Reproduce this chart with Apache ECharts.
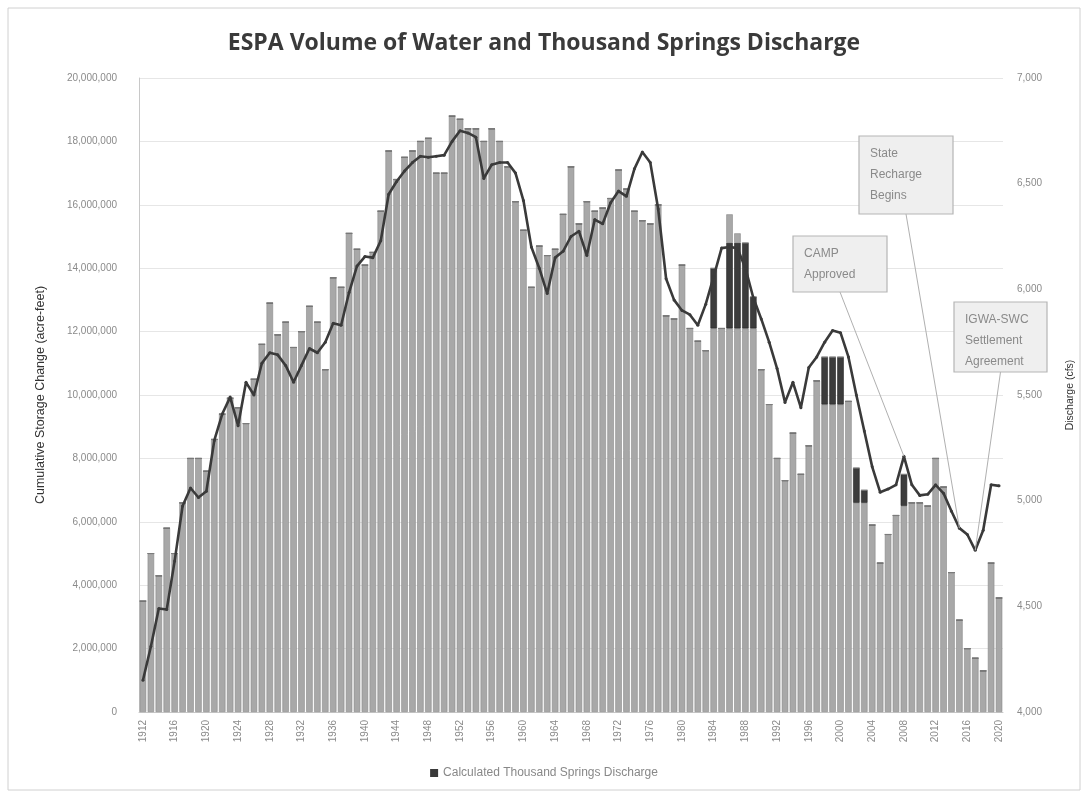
<!DOCTYPE html>
<html>
<head>
<meta charset="utf-8">
<script src="https://cdn.jsdelivr.net/npm/echarts@6/dist/echarts.min.js"></script>
<style>
html,body{margin:0;padding:0;background:#fff;}
#chart{width:1088px;height:798px;}
</style>
</head>
<body>
<div id="chart"></div>
<script>
// ---- DATA ----
const years = [];
for (let y = 1912; y <= 2020; y++) years.push(String(y));

// Cumulative storage change, millions of acre-feet (1912..2020)
const storageM = [
  3.5, 5.0, 4.3, 5.8, 5.0, 6.6, 8.0, 8.0, 7.6, 8.6,
  9.4, 9.9, 9.6, 9.1, 10.5, 11.6, 12.9, 11.9, 12.3, 11.5,
  12.0, 12.8, 12.3, 10.8, 13.7, 13.4, 15.1, 14.6, 14.1, 14.5,
  15.8, 17.7, 16.8, 17.5, 17.7, 18.0, 18.1, 17.0, 17.0, 18.8,
  18.7, 18.4, 18.4, 18.0, 18.4, 18.0, 17.2, 16.1, 15.2, 13.4,
  14.7, 14.4, 14.6, 15.7, 17.2, 15.4, 16.1, 15.8, 15.9, 16.2,
  17.1, 16.5, 15.8, 15.5, 15.4, 16.0, 12.5, 12.4, 14.1, 12.1,
  11.7, 11.4, 14.0, 12.1, 15.7, 15.1, 14.8, 13.1, 10.8, 9.7,
  8.0, 7.3, 8.8, 7.5, 8.4, 10.45, 11.2, 11.2, 11.2, 9.8,
  7.7, 7.0, 5.9, 4.7, 5.6, 6.2, 7.5, 6.6, 6.6, 6.5,
  8.0, 7.1, 4.4, 2.9, 2.0, 1.7, 1.3, 4.7, 3.6
];

// Dark-shaded bands drawn over some bars (millions of acre-feet)
const shadeYears = ['1984', '1986', '1987', '1988', '1989', '1998', '1999', '2000', '2002', '2003', '2008'];
const shadeFrom  = [12.1, 12.1, 12.1, 12.1, 12.1, 9.7, 9.7, 9.7, 6.6, 6.6, 6.5];
const shadeTo    = [14.0, 14.8, 14.8, 14.8, 13.1, 11.2, 11.2, 11.2, 7.7, 7.0, 7.5];

// Calculated Thousand Springs discharge, cfs (1912..2020)
const discharge = [
  4150, 4310, 4490, 4485, 4715, 4975, 5060, 5015, 5045, 5285,
  5410, 5490, 5355, 5560, 5500, 5650, 5700, 5690, 5640, 5560,
  5640, 5720, 5700, 5750, 5840, 5830, 5985, 6110, 6155, 6150,
  6230, 6450, 6510, 6560, 6600, 6630, 6625, 6630, 6635, 6700,
  6750, 6740, 6720, 6525, 6590, 6600, 6600, 6550, 6420, 6200,
  6100, 5980, 6150, 6180, 6250, 6275, 6160, 6330, 6310, 6410,
  6465, 6440, 6570, 6650, 6600, 6380, 6050, 5950, 5900, 5880,
  5830, 5930, 6060, 6195, 6200, 6195, 6100, 5960, 5860, 5750,
  5625, 5465, 5560, 5440, 5630, 5680, 5750, 5805, 5795, 5680,
  5500, 5330, 5160, 5040, 5055, 5075, 5210, 5075, 5025, 5030,
  5075, 5035, 4950, 4870, 4840, 4765, 4860, 5075, 5070
];

const notes = [
  { text: 'State\nRecharge\nBegins', year: '2015' },
  { text: 'CAMP\nApproved', year: '2008' },
  { text: 'IGWA-SWC\nSettlement\nAgreement', year: '2017' }
];

// ---- derived stacks ----
const stBase = [], stDark = [], stTop = [];
years.forEach((y, i) => {
  const total = storageM[i] * 1e6;
  const k = shadeYears.indexOf(y);
  if (k < 0) { stBase.push(total); stDark.push(0); stTop.push(0); }
  else {
    const f = shadeFrom[k] * 1e6, t = shadeTo[k] * 1e6;
    stBase.push(Math.min(total, f));
    stDark.push(Math.max(0, Math.min(total, t) - f));
    stTop.push(Math.max(0, total - t));
  }
});

const fmt = v => v.toLocaleString('en-US');
const chart = echarts.init(document.getElementById('chart'));
const barStyle = { color: '#a8a8a8', borderColor: '#8a8a8a', borderWidth: 0.6 };

chart.setOption({
  animation: false,
  backgroundColor: '#fff',
  title: {
    text: 'ESPA Volume of Water and Thousand Springs Discharge',
    left: 'center', top: 27,
    textStyle: { fontFamily: 'Open Sans', fontSize: 23, fontWeight: 'bold', color: '#3a3a3a' }
  },
  legend: {
    bottom: 14, left: 'center',
    data: [{ name: 'Calculated Thousand Springs Discharge', icon: 'rect' }],
    itemWidth: 8, itemHeight: 8, itemGap: 4,
    textStyle: { fontFamily: 'Liberation Sans', fontSize: 12, color: '#888' }
  },
  grid: { left: 139, right: 85, top: 78, bottom: 86 },
  xAxis: {
    type: 'category', data: years,
    axisTick: { show: false },
    axisLine: { lineStyle: { color: '#c8c8c8' } },
    axisLabel: { interval: 3, rotate: 90, fontFamily: 'Liberation Sans', fontSize: 10, color: '#8a8a8a', margin: 8 }
  },
  yAxis: [
    {
      type: 'value', min: 0, max: 20000000, interval: 2000000,
      name: 'Cumulative Storage Change (acre-feet)', nameLocation: 'middle', nameGap: 92,
      nameTextStyle: { fontFamily: 'Liberation Sans', fontSize: 12.5, color: '#333' },
      axisLine: { show: true, lineStyle: { color: '#c8c8c8' } },
      axisLabel: { formatter: v => fmt(v), fontFamily: 'Liberation Sans', fontSize: 10, color: '#8a8a8a', margin: 22 },
      splitLine: { lineStyle: { color: '#e6e6e6' } }
    },
    {
      type: 'value', min: 4000, max: 7000, interval: 500,
      name: 'Discharge (cfs)', nameLocation: 'middle', nameGap: 62,
      nameTextStyle: { fontFamily: 'Liberation Sans', fontSize: 10.5, color: '#333' },
      axisLine: { show: false },
      axisLabel: { formatter: v => fmt(v), fontFamily: 'Liberation Sans', fontSize: 10, color: '#8a8a8a', margin: 14 },
      splitLine: { show: false }
    }
  ],
  series: [
    { name: 'Storage', type: 'bar', stack: 's', data: stBase, itemStyle: barStyle, barCategoryGap: '18%' },
    { name: 'Shade', type: 'bar', stack: 's', data: stDark,
      itemStyle: { color: '#3c3c3c', borderColor: '#222', borderWidth: 0.6 } },
    { name: 'StorageTop', type: 'bar', stack: 's', data: stTop, itemStyle: barStyle },
    {
      name: 'Calculated Thousand Springs Discharge', type: 'line', yAxisIndex: 1,
      data: discharge, symbol: 'circle', symbolSize: 3, showSymbol: true,
      lineStyle: { color: '#3a3a3a', width: 2.6 },
      itemStyle: { color: '#3a3a3a' }, z: 5
    }
  ]
});

// ---- annotations ----
const boxes = [
  { x: 859, y: 136, w: 94, h: 78 },
  { x: 793, y: 236, w: 94, h: 56 },
  { x: 954, y: 302, w: 93, h: 70 }
];
const g = [];
notes.forEach((n, k) => {
  const b = boxes[k];
  const idx = years.indexOf(n.year);
  const p = chart.convertToPixel({ xAxisIndex: 0, yAxisIndex: 1 }, [n.year, discharge[idx]]);
  g.push({ type: 'line', z: 10, shape: { x1: b.x + b.w / 2, y1: b.y + b.h, x2: p[0], y2: p[1] },
           style: { stroke: '#b0b0b0', lineWidth: 1 } });
  g.push({ type: 'rect', z: 11, shape: { x: b.x, y: b.y, width: b.w, height: b.h },
           style: { fill: '#efefef', stroke: '#b5b5b5', lineWidth: 1.2 } });
  g.push({ type: 'text', z: 12, left: b.x + 11, top: b.y + 7,
           style: { text: n.text, font: '12px "Liberation Sans"', fill: '#8a8a8a', lineHeight: 21 } });
});
g.push({ type: 'rect', z: 0, shape: { x: 8, y: 8, width: 1072, height: 782 },
         style: { fill: 'none', stroke: '#d0d0d0', lineWidth: 1 } });
chart.setOption({ graphic: g });
</script>
</body>
</html>
